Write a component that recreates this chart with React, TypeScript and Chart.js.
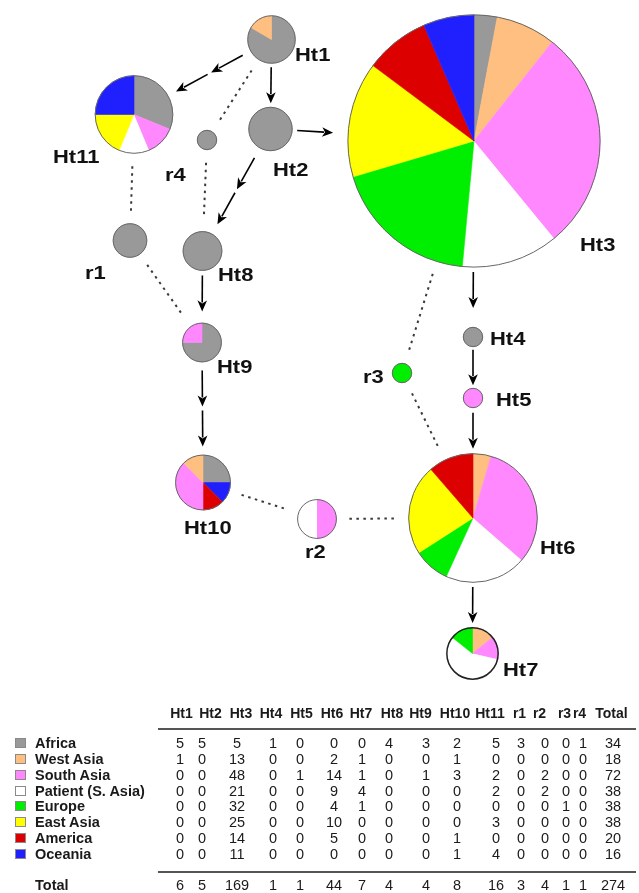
import React, { useEffect, useRef } from "react";
import { Chart, registerables } from "chart.js";

Chart.register(...registerables);

// ---------- data ----------
const HAPLOTYPES = ["Ht1", "Ht2", "Ht3", "Ht4", "Ht5", "Ht6", "Ht7", "Ht8", "Ht9", "Ht10", "Ht11", "r1", "r2", "r3", "r4"];
const REGIONS = ["Africa", "West Asia", "South Asia", "Patient (S. Asia)", "Europe", "East Asia", "America", "Oceania"];
const REGION_COLORS = ["#999999", "#ffbf80", "#ff88ff", "#ffffff", "#00ee00", "#ffff00", "#dd0000", "#2020ff"];

const AFRICA = [5, 5, 5, 1, 0, 0, 0, 4, 3, 2, 5, 3, 0, 0, 1];
const WEST_ASIA = [1, 0, 13, 0, 0, 2, 1, 0, 0, 1, 0, 0, 0, 0, 0];
const SOUTH_ASIA = [0, 0, 48, 0, 1, 14, 1, 0, 1, 3, 2, 0, 2, 0, 0];
const PATIENT = [0, 0, 21, 0, 0, 9, 4, 0, 0, 0, 2, 0, 2, 0, 0];
const EUROPE = [0, 0, 32, 0, 0, 4, 1, 0, 0, 0, 0, 0, 0, 1, 0];
const EAST_ASIA = [0, 0, 25, 0, 0, 10, 0, 0, 0, 0, 3, 0, 0, 0, 0];
const AMERICA = [0, 0, 14, 0, 0, 5, 0, 0, 0, 1, 0, 0, 0, 0, 0];
const OCEANIA = [0, 0, 11, 0, 0, 0, 0, 0, 0, 1, 4, 0, 0, 0, 0];
const COUNTS = [AFRICA, WEST_ASIA, SOUTH_ASIA, PATIENT, EUROPE, EAST_ASIA, AMERICA, OCEANIA];

// network layout (node centres in layout units)
const NODE_X = [271.5, 270.5, 474, 473, 473, 473, 472.5, 202.5, 202, 203, 134, 130, 317, 402, 207];
const NODE_Y = [39.5, 129, 141, 337, 398, 518, 653.5, 251, 342.5, 482.5, 114.5, 240.5, 519, 373, 140];

// mutational steps (arrows) and reticulation links (dotted)
const ARROWS: [string, string, number][] = [
  ["Ht1", "Ht11", 2], ["Ht1", "Ht2", 1], ["Ht2", "Ht3", 1], ["Ht2", "Ht8", 2],
  ["Ht8", "Ht9", 1], ["Ht9", "Ht10", 2], ["Ht3", "Ht4", 1], ["Ht4", "Ht5", 1],
  ["Ht5", "Ht6", 1], ["Ht6", "Ht7", 1],
];
const LINKS: [string, string][] = [
  ["Ht1", "r4"], ["r4", "Ht8"], ["Ht11", "r1"], ["r1", "Ht9"],
  ["Ht3", "r3"], ["r3", "Ht6"], ["Ht10", "r2"], ["r2", "Ht6"],
];

// ---------- layout / style ----------
const W = 639;
const H = 893;
const NET_H = 690;
const R_UNIT = 9.7;
const LABEL_X = [295, 273, 580, 490, 496, 540, 503, 218, 217, 184, 53, 85, 305, 363, 165];
const LABEL_Y = [55, 170, 245, 339, 400, 548, 670, 275, 367, 528, 157, 273, 552, 377, 175];
const SLICE_ORDER: Record<string, number[]> = { Ht10: [0, 7, 6, 2, 1] };

const NUM_COL_X = [180, 202, 237, 273, 300, 334, 362, 389, 426, 457, 496, 521, 545, 566, 583, 613];
const HEAD_COL_X = [181.5, 210.5, 241, 271, 301.5, 332, 361, 392, 420.5, 455, 490, 519.5, 539.5, 564.5, 579.5, 611.5];
const ROW_Y0 = 743;
const ROW_STEP = 15.85;

const totals = HAPLOTYPES.map((_, i) => COUNTS.reduce((s, row) => s + row[i], 0));
const rowTotals = COUNTS.map((row) => row.reduce((s, v) => s + v, 0));
const grandTotal = rowTotals.reduce((s, v) => s + v, 0);
const radii = totals.map((t) => R_UNIT * Math.sqrt(t));

const FONT = '"Liberation Sans", Arial, Helvetica, sans-serif';

function idx(name: string) {
  return HAPLOTYPES.indexOf(name);
}

const networkPlugin = {
  id: "network",
  beforeDatasetsDraw(chart: any) {
    const ctx = chart.ctx as CanvasRenderingContext2D;
    const xs = chart.scales.x;
    const ys = chart.scales.y;
    const P = (i: number) => ({ x: xs.getPixelForValue(NODE_X[i]), y: ys.getPixelForValue(NODE_Y[i]), r: radii[i] });

    // dotted links
    ctx.save();
    ctx.strokeStyle = "#3a3a3a";
    ctx.lineWidth = 2;
    ctx.setLineDash([2.5, 4.5]);
    for (const [a, b] of LINKS) {
      const A = P(idx(a));
      const B = P(idx(b));
      const dx = B.x - A.x;
      const dy = B.y - A.y;
      const d = Math.hypot(dx, dy);
      const ux = dx / d;
      const uy = dy / d;
      const g = 13;
      ctx.beginPath();
      ctx.moveTo(A.x + ux * (A.r + g), A.y + uy * (A.r + g));
      ctx.lineTo(B.x - ux * (B.r + g), B.y - uy * (B.r + g));
      ctx.stroke();
    }
    ctx.restore();

    // arrows
    ctx.save();
    ctx.strokeStyle = "#000";
    ctx.fillStyle = "#000";
    ctx.lineWidth = 1.6;
    const head = 11;
    const hw = 4.8;
    const drawArrow = (sx: number, sy: number, tx: number, ty: number, ux: number, uy: number) => {
      const bx = tx - ux * head;
      const by = ty - uy * head;
      ctx.beginPath();
      ctx.moveTo(sx, sy);
      ctx.lineTo(bx + ux * 2, by + uy * 2);
      ctx.stroke();
      ctx.beginPath();
      ctx.moveTo(tx, ty);
      ctx.lineTo(bx - uy * hw, by + ux * hw);
      ctx.lineTo(bx + ux * 3, by + uy * 3);
      ctx.lineTo(bx + uy * hw, by - ux * hw);
      ctx.closePath();
      ctx.fill();
    };
    for (const [a, b, n] of ARROWS) {
      const A = P(idx(a));
      const B = P(idx(b));
      const dx = B.x - A.x;
      const dy = B.y - A.y;
      const d = Math.hypot(dx, dy);
      const ux = dx / d;
      const uy = dy / d;
      const free = d - A.r - B.r;
      let seg: number;
      let start: number;
      const between = 4;
      if (n === 1) {
        seg = Math.min(36, free - 6);
        start = Math.min(5, (free - seg) / 2);
      } else {
        seg = 36;
        start = (free - (n * seg + (n - 1) * between)) / 2;
      }
      for (let k = 0; k < n; k++) {
        const s0 = A.r + start + k * (seg + between);
        const s1 = s0 + seg;
        drawArrow(A.x + ux * s0, A.y + uy * s0, A.x + ux * s1, A.y + uy * s1, ux, uy);
      }
    }
    ctx.restore();
  },
  afterDatasetsDraw(chart: any) {
    const ctx = chart.ctx as CanvasRenderingContext2D;
    const xs = chart.scales.x;
    const ys = chart.scales.y;
    HAPLOTYPES.forEach((name, i) => {
      const cx = xs.getPixelForValue(NODE_X[i]);
      const cy = ys.getPixelForValue(NODE_Y[i]);
      const r = radii[i];
      const total = totals[i];
      const order = SLICE_ORDER[name] || COUNTS.map((_, k) => k);
      let a = -Math.PI / 2;
      ctx.save();
      for (const k of order) {
        const v = COUNTS[k][i];
        if (!v) continue;
        const sweep = (v / total) * Math.PI * 2;
        ctx.beginPath();
        if (sweep >= Math.PI * 2 - 1e-6) {
          ctx.arc(cx, cy, r, 0, Math.PI * 2);
        } else {
          ctx.moveTo(cx, cy);
          ctx.arc(cx, cy, r, a, a + sweep);
          ctx.closePath();
        }
        ctx.fillStyle = REGION_COLORS[k];
        ctx.fill();
        if (REGION_COLORS[k] !== "#ffffff") {
          ctx.strokeStyle = REGION_COLORS[k];
          ctx.lineWidth = 0.6;
          ctx.stroke();
        }
        a += sweep;
      }
      ctx.beginPath();
      ctx.arc(cx, cy, r, 0, Math.PI * 2);
      ctx.strokeStyle = name === "Ht7" ? "#222" : "#666";
      ctx.lineWidth = name === "Ht7" ? 1.5 : 1;
      ctx.stroke();
      ctx.restore();

      // label
      ctx.save();
      ctx.fillStyle = "#111";
      ctx.font = `bold 18px ${FONT}`;
      ctx.textBaseline = "middle";
      ctx.textAlign = "left";
      ctx.translate(xs.getPixelForValue(LABEL_X[i]), ys.getPixelForValue(LABEL_Y[i]));
      ctx.scale(1.22, 1);
      ctx.fillText(name, 0, 1);
      ctx.restore();
    });
  },
};

function Network() {
  const ref = useRef<HTMLCanvasElement | null>(null);
  useEffect(() => {
    const canvas = ref.current;
    if (!canvas) return;
    const chart = new Chart(canvas, {
      type: "bubble",
      data: {
        datasets: [
          {
            label: "haplotypes",
            data: HAPLOTYPES.map((_, i) => ({ x: NODE_X[i], y: NODE_Y[i], r: radii[i] })),
            backgroundColor: "rgba(0,0,0,0)",
            borderColor: "rgba(0,0,0,0)",
            borderWidth: 0,
            clip: false as any,
          },
        ],
      },
      options: {
        animation: false,
        responsive: false,
        maintainAspectRatio: false,
        devicePixelRatio: 1,
        layout: { padding: 0, autoPadding: false } as any,
        events: [],
        scales: {
          x: { type: "linear", min: 0, max: W, display: false },
          y: { type: "linear", min: 0, max: NET_H, reverse: true, display: false },
        },
        plugins: { legend: { display: false }, tooltip: { enabled: false } },
      },
      plugins: [networkPlugin],
    });
    return () => chart.destroy();
  }, []);
  return <canvas ref={ref} width={W} height={NET_H} style={{ display: "block", position: "absolute", left: 0, top: 0 }} />;
}

function Table() {
  const cell = (x: number, y: number, text: string | number, bold: boolean, size: number, key: string) => (
    <div
      key={key}
      style={{
        position: "absolute",
        left: x,
        top: y,
        transform: "translate(-50%, -50%)",
        fontWeight: bold ? "bold" : "normal",
        fontSize: size,
        whiteSpace: "nowrap",
        lineHeight: 1,
      }}
    >
      {text}
    </div>
  );
  const headers = [...HAPLOTYPES, "Total"];
  return (
    <div style={{ position: "absolute", left: 0, top: 0, width: W, height: H, fontFamily: FONT, color: "#1a1a1a" }}>
      {headers.map((h, i) => cell(HEAD_COL_X[i], 713, h, true, 14, "h" + i))}
      <div style={{ position: "absolute", left: 158, top: 728, width: 478, height: 2, background: "#555" }} />
      {REGIONS.map((reg, k) => {
        const y = ROW_Y0 + k * ROW_STEP;
        return (
          <React.Fragment key={"r" + k}>
            <div
              style={{
                position: "absolute",
                left: 15,
                top: y - 5,
                width: 11,
                height: 10,
                boxSizing: "border-box",
                border: "1px solid #8a8a8a",
                background: REGION_COLORS[k],
              }}
            />
            <div
              style={{
                position: "absolute",
                left: 35,
                top: y,
                transform: "translateY(-50%)",
                fontWeight: "bold",
                fontSize: 14.5,
                lineHeight: 1,
                whiteSpace: "nowrap",
              }}
            >
              {reg}
            </div>
            {COUNTS[k].map((v, i) => cell(NUM_COL_X[i], y, v, false, 14.5, "c" + k + "_" + i))}
            {cell(NUM_COL_X[HAPLOTYPES.length], y, rowTotals[k], false, 14.5, "t" + k)}
          </React.Fragment>
        );
      })}
      <div style={{ position: "absolute", left: 158, top: 871, width: 478, height: 2, background: "#555" }} />
      <div
        style={{
          position: "absolute",
          left: 35,
          top: 885,
          transform: "translateY(-50%)",
          fontWeight: "bold",
          fontSize: 14.5,
          lineHeight: 1,
        }}
      >
        Total
      </div>
      {totals.map((t, i) => cell(NUM_COL_X[i], 885, t, false, 14.5, "T" + i))}
      {cell(NUM_COL_X[HAPLOTYPES.length], 885, grandTotal, false, 14.5, "GT")}
    </div>
  );
}

export default function App() {
  return (
    <div style={{ position: "absolute", left: 0, top: 0, width: W, height: H, background: "#fff", overflow: "hidden" }}>
      <Network />
      <Table />
    </div>
  );
}
